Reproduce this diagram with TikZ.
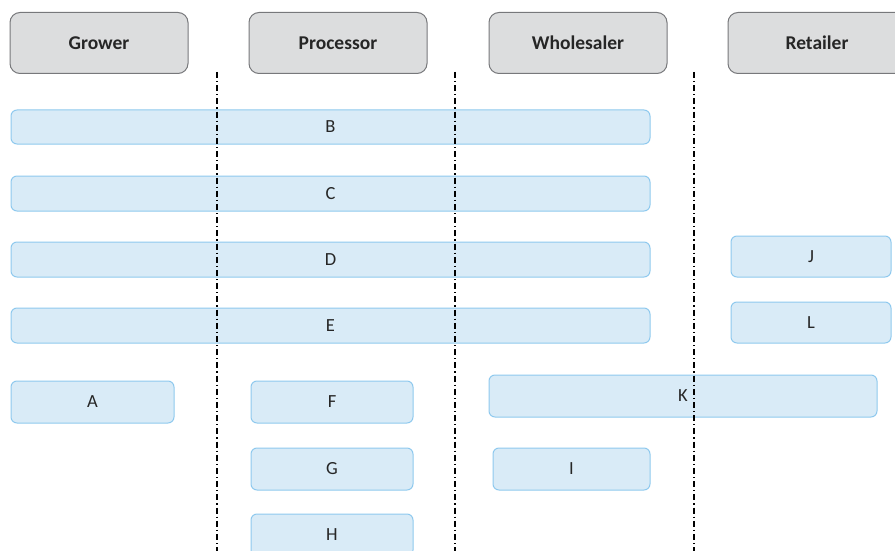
\documentclass[tikz,border=0pt]{standalone}
\usepackage{fontspec}
\setmainfont{Carlito}
\definecolor{hdrfill}{HTML}{DCDDDE}
\definecolor{hdrdraw}{HTML}{77787B}
\definecolor{bxfill}{HTML}{D9EBF7}
\definecolor{bxdraw}{HTML}{8FC9EE}
\tikzset{
  hdr/.style={draw=hdrdraw, fill=hdrfill, line width=1pt, rounded corners=10pt,
    minimum width=178pt, minimum height=61pt, inner sep=0pt,
    font=\fontsize{19.5}{22}\selectfont\bfseries, text=black!85},
  bx/.style={draw=bxdraw, fill=bxfill, line width=1pt, rounded corners=6pt,
    inner sep=0pt, font=\fontsize{18.5}{21}\selectfont, text=black!85},
  lane/.style={line width=1.2pt, black, dash pattern=on 6pt off 3pt on 1.2pt off 3pt}
}
\begin{document}
\begin{tikzpicture}[x=1pt,y=-1pt]
\useasboundingbox (0,0) rectangle (895,551);
\clip (0,0) rectangle (895,551);
% headers
\node[hdr] (grower) at (99,43) {Grower};
\node[hdr, yshift=0pt] (processor) at (338,43) {Processor};
\node[hdr] (wholesaler) at (578,43) {Wholesaler};
\node[hdr] (retailer) at (817,43) {Retailer};
% lane separators
\coordinate (s1t) at (217,72); \coordinate (s1b) at (217,551);
\coordinate (s2t) at (455,72); \coordinate (s2b) at (455,551);
\coordinate (s3t) at (694,72); \coordinate (s3b) at (694,551);
% boxes
\node[bx, minimum width=639pt, minimum height=34pt] (B) at (330.5,127) {B};
\node[bx, minimum width=639pt, minimum height=35pt] (C) at (330.5,193.5) {C};
\node[bx, minimum width=639pt, minimum height=35pt] (D) at (330.5,259.5) {D};
\node[bx, minimum width=639pt, minimum height=35pt] (E) at (330.5,325.5) {E};
\node[bx, minimum width=163pt, minimum height=42pt] (A) at (92.5,402) {A};
\node[bx, minimum width=162pt, minimum height=42pt] (F) at (332,402) {F};
\node[bx, minimum width=162pt, minimum height=42pt] (G) at (332,469) {G};
\node[bx, minimum width=162pt, minimum height=42pt] (H) at (332,535) {H};
\node[bx, minimum width=388pt, minimum height=42pt] (K) at (683,396) {K};
\node[bx, minimum width=157pt, minimum height=42pt] (I) at (571.5,469) {I};
\node[bx, minimum width=160pt, minimum height=41pt] (J) at (811,256.5) {J};
\node[bx, minimum width=160pt, minimum height=41pt] (L) at (811,322.5) {L};
\draw[lane] (s1t) -- (s1b);
\draw[lane] (s2t) -- (s2b);
\draw[lane] (s3t) -- (s3b);
\end{tikzpicture}
\end{document}
